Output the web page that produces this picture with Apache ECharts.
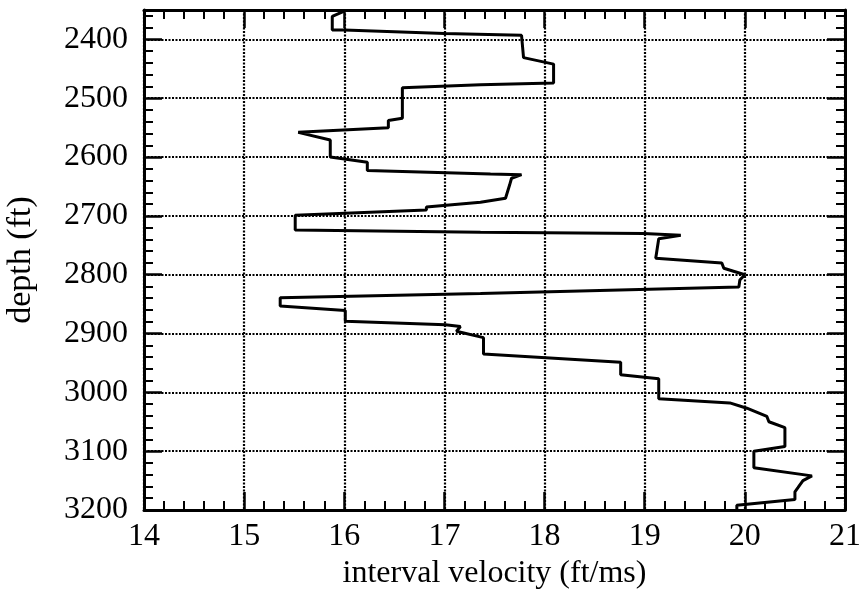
<!DOCTYPE html>
<html>
<head>
<meta charset="utf-8">
<script src="https://cdn.jsdelivr.net/npm/echarts@6/dist/echarts.min.js"></script>
<style>html,body{margin:0;padding:0;background:#fff}#c{width:859px;height:593px}</style>
</head>
<body>
<div id="c"></div>
<script>
// interval velocity (ft/ms) along the trace, in drawing order
const velocity = [16.00,15.88,15.88,16.00,17.00,17.77,17.79,18.09,18.09,17.36,16.58,16.58,16.44,16.44,15.54,15.86,15.86,16.23,16.23,17.46,17.77,17.67,17.65,17.61,17.36,16.82,16.82,15.51,15.51,17.36,18.99,19.36,19.14,19.11,19.77,19.79,20.00,19.95,19.94,17.36,15.36,15.36,16.01,16.01,17.01,17.16,17.12,17.39,17.39,18.76,18.76,19.14,19.14,19.85,20.02,20.22,20.24,20.40,20.40,20.09,20.09,20.67,20.58,20.53,20.50,20.50,19.92,19.92];
// depth (ft) of each vertex
const depth = [2352,2361,2384,2384,2390,2393,2431,2442,2474,2477,2482,2534,2538,2550,2558,2571,2600,2609,2623,2629,2630,2636,2648,2670,2677,2685,2690,2699,2724,2728,2730,2733,2739,2772,2780,2789,2800,2809,2821,2832,2839,2853,2861,2879,2885,2888,2896,2907,2935,2949,2970,2977,3011,3018,3027,3041,3050,3060,3092,3100,3128,3142,3150,3162,3169,3182,3192,3200];
const xTicks = [14,15,16,17,18,19,20,21];
const yMajor = [2400,2500,2600,2700,2800,2900,3000,3100,3200];
const yMinor = [2360,2380,2420,2440,2460,2480,2520,2540,2560,2580,2620,2640,2660,2680,2720,2740,2760,2780,2820,2840,2860,2880,2920,2940,2960,2980,3020,3040,3060,3080,3120,3140,3160,3180];

const FONT = 'Liberation Serif';
const FS = 32;
const chart = echarts.init(document.getElementById('c'), null, {renderer: 'canvas'});
const axisLine = {show: true, onZero: false, lineStyle: {color: '#000', width: 3}};
const dotted = {show: true, lineStyle: {color: '#000', width: 2.2, type: [2, 1.5]}};
const yBase = {type: 'value', inverse: true, min: 2350, max: 3200, splitNumber: 9};

chart.setOption({
  animation: false,
  backgroundColor: '#fff',
  grid: {left: 144, right: 14, top: 10, bottom: 83, containLabel: false, outerBoundsMode: 'none'},
  xAxis: [
    {type: 'value', position: 'bottom', min: 14, max: 21, interval: 1,
     axisLine: axisLine,
     axisTick: {show: true, inside: true, length: 18, lineStyle: {color: '#000', width: 2.5}},
     minorTick: {show: true, splitNumber: 5, length: 9, lineStyle: {color: '#000', width: 2}},
     splitLine: dotted,
     axisLabel: {show: true, margin: 11, fontFamily: FONT, fontSize: FS, color: '#000',
       customValues: xTicks, formatter: v => String(v)},
     name: 'interval velocity (ft/ms)', nameLocation: 'middle', nameGap: 45,
     nameTextStyle: {fontFamily: FONT, fontSize: FS, color: '#000'}},
    {type: 'value', position: 'top', min: 14, max: 21, interval: 1,
     axisLine: axisLine,
     axisTick: {show: true, inside: true, length: 18, lineStyle: {color: '#000', width: 2.5}},
     minorTick: {show: true, splitNumber: 5, length: 9, lineStyle: {color: '#000', width: 2}},
     splitLine: {show: false}, axisLabel: {show: false}}
  ],
  yAxis: [
    Object.assign({}, yBase, {position: 'left',
     axisLine: axisLine,
     axisTick: {show: true, inside: true, length: 18, lineStyle: {color: '#000', width: 2.5}},
     minorTick: {show: false},
     splitLine: dotted,
     axisLabel: {show: true, showMinLabel: false, margin: 16, fontFamily: FONT, fontSize: FS, color: '#000',
       formatter: v => (yMajor.indexOf(v) >= 0 ? String(v) : '')},
     name: 'depth (ft)', nameLocation: 'middle', nameGap: 106,
     nameTextStyle: {fontFamily: FONT, fontSize: FS + 2, color: '#000'}}),
    Object.assign({}, yBase, {position: 'right',
     axisLine: axisLine,
     axisTick: {show: true, inside: true, length: 18, lineStyle: {color: '#000', width: 2.5}},
     minorTick: {show: false}, splitLine: {show: false}, axisLabel: {show: false}}),
    Object.assign({}, yBase, {position: 'left',
     axisLine: {show: false},
     axisTick: {show: true, inside: true, length: 9, customValues: yMinor, lineStyle: {color: '#000', width: 2}},
     splitLine: {show: false}, axisLabel: {show: false}}),
    Object.assign({}, yBase, {position: 'right',
     axisLine: {show: false},
     axisTick: {show: true, inside: true, length: 9, customValues: yMinor, lineStyle: {color: '#000', width: 2}},
     splitLine: {show: false}, axisLabel: {show: false}})
  ],
  series: [{
    type: 'line', xAxisIndex: 0, yAxisIndex: 0,
    data: velocity.map((v, i) => [v, depth[i]]),
    showSymbol: false, symbol: 'none', clip: true, z: 10,
    lineStyle: {color: '#000', width: 3}
  }]
});
</script>
</body>
</html>
